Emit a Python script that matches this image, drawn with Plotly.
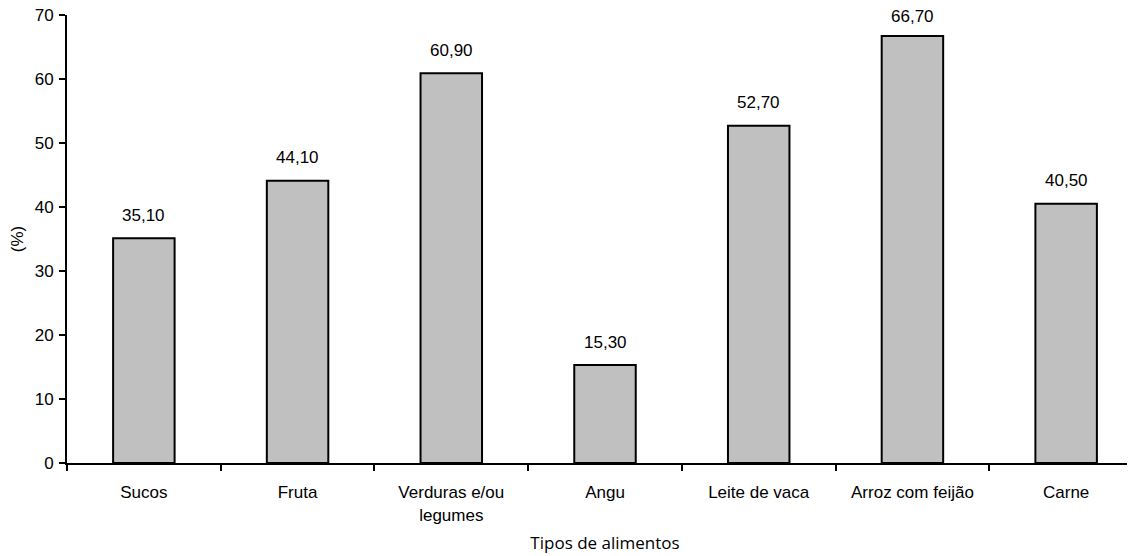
import plotly.graph_objects as go

categories = ["Sucos", "Fruta", "Verduras e/ou<br>legumes", "Angu", "Leite de vaca", "Arroz com feijão", "Carne"]
values = [35.1, 44.1, 60.9, 15.3, 52.7, 66.7, 40.5]
value_labels = ["35,10", "44,10", "60,90", "15,30", "52,70", "66,70", "40,50"]
y_ticks = [0, 10, 20, 30, 40, 50, 60, 70]

FONT = "Liberation Sans"
W, H = 1135, 556
M = dict(l=59, r=0, t=7, b=101)
Y_MAX = 70

fig = go.Figure()
fig.add_trace(go.Bar(
    x=categories, y=values,
    width=0.4,
    marker=dict(color="#c0c0c0", line=dict(color="black", width=2)),
    hoverinfo="skip",
))

plot_h = H - M["t"] - M["b"]
for c, v, t in zip(categories, values, value_labels):
    # pixel distance from the top of the figure to the bar top
    top_px = M["t"] + (Y_MAX - v) / Y_MAX * plot_h
    shift = min(23, top_px - 8)
    fig.add_annotation(x=c, y=v, text=t, showarrow=False, yshift=shift,
                       font=dict(family=FONT, size=17, color="black"))

fig.update_layout(
    width=W, height=H,
    margin=M,
    paper_bgcolor="white", plot_bgcolor="white",
    showlegend=False,
    bargap=0.6,
)
fig.update_xaxes(
    range=[-0.5, 6.5],
    automargin=False,
    showline=True, linecolor="black", linewidth=2,
    ticks="outside", tickson="boundaries", ticklen=6, tickwidth=2, tickcolor="black",
    ticklabelstandoff=13, ticklabeloverflow="allow",
    tickfont=dict(family=FONT, size=17, color="black"),
    title=dict(text="Tipos de alimentos", standoff=14,
               font=dict(family="Open Sans", size=17, color="black")),
    showgrid=False, zeroline=False,
)
fig.update_yaxes(
    range=[0, Y_MAX], tickvals=y_ticks,
    automargin=False,
    showline=True, linecolor="black", linewidth=2,
    ticks="outside", ticklen=6, tickwidth=2, tickcolor="black",
    ticklabelstandoff=2, ticklabeloverflow="allow",
    tickfont=dict(family=FONT, size=17, color="black"),
    title=dict(text="(%)", standoff=10,
               font=dict(family=FONT, size=17, color="black")),
    showgrid=False, zeroline=False,
)
fig.write_html("out.html")
